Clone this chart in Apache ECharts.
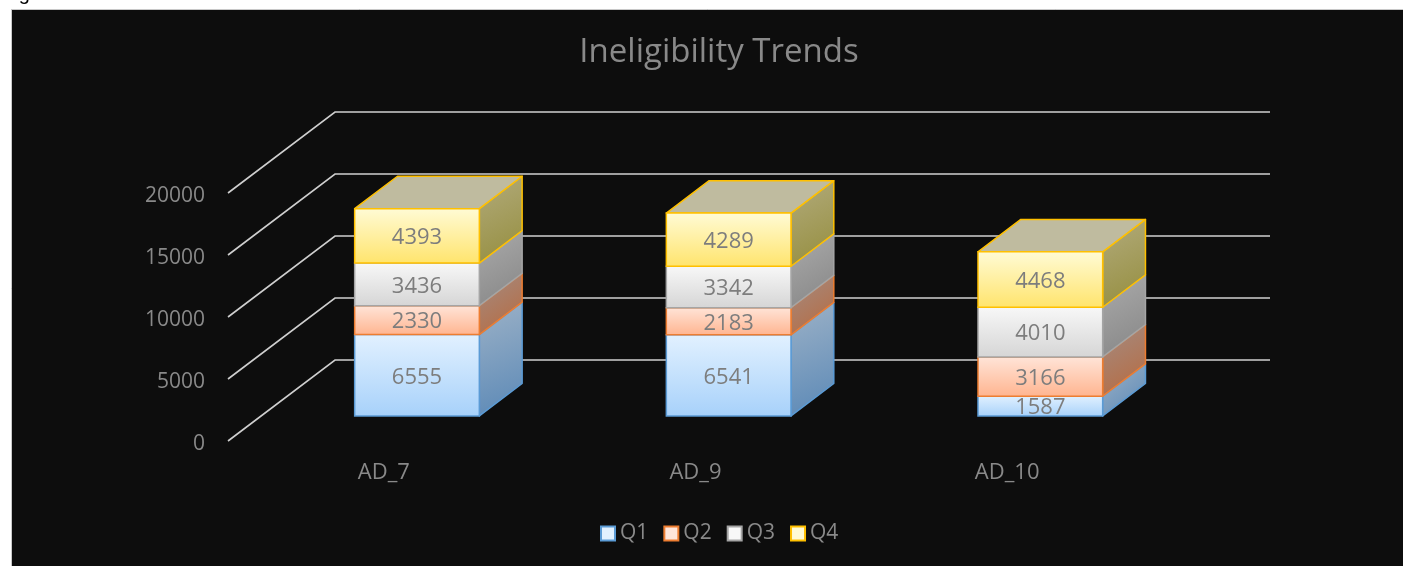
<!DOCTYPE html>
<html>
<head>
<meta charset="utf-8">
<title>Ineligibility Trends</title>
<script src="https://cdn.jsdelivr.net/npm/echarts@6/dist/echarts.min.js"></script>
<style>
  html, body { margin: 0; padding: 0; background: #ffffff; }
  #chart { width: 1403px; height: 566px; }
</style>
</head>
<body>
<div id="chart"></div>
<script>
// ---- data ----
const categories = ['AD_7', 'AD_9', 'AD_10'];
const seriesNames = ['Q1', 'Q2', 'Q3', 'Q4'];
const q1 = [6555, 6541, 1587];
const q2 = [2330, 2183, 3166];
const q3 = [3436, 3342, 4010];
const q4 = [4393, 4289, 4468];
const yTicks = [0, 5000, 10000, 15000, 20000];

// ---- 3D look: oblique depth vector of the floor/walls and bar placement in it ----
const DEPTH_X = 107;
const DEPTH_Y = -81;
const BAR_FRONT = 0.31;   // fraction of depth where the bar's front face sits
const BAR_BACK = 0.71;    // fraction of depth where the bar's back face sits
const BAR_WIDTH = 0.40;   // fraction of a category band
const FONT = '"Open Sans", "Noto Sans", sans-serif';
const TEXT = '#898989';

const palette = [
  { edge: '#5b9bd5', front: ['#e2f1ff', '#a7d1fa'], side: ['#9db2c7', '#5a88b6'], top: '#b9cde0' },
  { edge: '#ed7d31', front: ['#ffe5d9', '#ffb48f'], side: ['#a38c84', '#b8693c'], top: '#d9b7a6' },
  { edge: '#a5a5a5', front: ['#f8f8f8', '#d5d5d5'], side: ['#ababab', '#858585'], top: '#c8c8c8' },
  { edge: '#ffc000', front: ['#fffbd6', '#ffe46c'], side: ['#b2ab7d', '#948d3c'], top: '#bfbb9f' }
];

const values = [q1, q2, q3, q4];
// stacked [category, base, top, value] rows per series
const stacked = values.map(function (vals, si) {
  return vals.map(function (v, ci) {
    let base = 0;
    for (let k = 0; k < si; k++) base += values[k][ci];
    return [ci, base, base + v, v];
  });
});

function grad(c) {
  return new echarts.graphic.LinearGradient(0, 0, 0, 1, [
    { offset: 0, color: c[0] }, { offset: 1, color: c[1] }
  ]);
}
function diag(c) {
  return new echarts.graphic.LinearGradient(0, 0, 1, 1, [
    { offset: 0, color: c[0] }, { offset: 1, color: c[1] }
  ]);
}

function barRenderer(si) {
  const pal = palette[si];
  const isTop = si === values.length - 1;
  return function (params, api) {
    const ci = api.value(0);
    const base = api.value(1);
    const top = api.value(2);
    const val = api.value(3);
    const band = api.size([1, 0])[0];
    const w = band * BAR_WIDTH;
    const p0 = api.coord([ci, base]);
    const p1 = api.coord([ci, top]);
    const ox = DEPTH_X * BAR_FRONT, oy = DEPTH_Y * BAR_FRONT;
    const dx = DEPTH_X * (BAR_BACK - BAR_FRONT), dy = DEPTH_Y * (BAR_BACK - BAR_FRONT);
    const xl = p0[0] - w / 2 + ox, xr = p0[0] + w / 2 + ox;
    const yb = p0[1] + oy, yt = p1[1] + oy;
    const children = [];
    children.push({
      type: 'polygon',
      shape: { points: [[xr, yb], [xr + dx, yb + dy], [xr + dx, yt + dy], [xr, yt]] },
      style: { fill: diag(pal.side), stroke: pal.edge, lineWidth: 1.5, lineJoin: 'round' }
    });
    if (isTop) {
      children.push({
        type: 'polygon',
        shape: { points: [[xl, yt], [xr, yt], [xr + dx, yt + dy], [xl + dx, yt + dy]] },
        style: { fill: pal.top, stroke: pal.edge, lineWidth: 1.5, lineJoin: 'round' }
      });
    }
    children.push({
      type: 'rect',
      shape: { x: xl, y: yt, width: xr - xl, height: yb - yt },
      style: { fill: grad(pal.front), stroke: pal.edge, lineWidth: 1.5 }
    });
    children.push({
      type: 'text',
      x: (xl + xr) / 2,
      y: (yb + yt) / 2 + 2,
      style: {
        text: String(val), fill: '#7d7d7d', font: '22px ' + FONT,
        align: 'center', verticalAlign: 'middle'
      }
    });
    return { type: 'group', children: children };
  };
}

function gridRenderer(params, api) {
  const y = api.coord([0, api.value(1)])[1];
  const cs = params.coordSys;
  const left = cs.x, right = cs.x + cs.width;
  return {
    type: 'polyline',
    shape: { points: [[left, y], [left + DEPTH_X, y + DEPTH_Y], [right + DEPTH_X, y + DEPTH_Y]] },
    style: { stroke: '#cfcfcf', lineWidth: 1.6, fill: null }
  };
}

const series = [{
  type: 'custom',
  name: 'grid',
  z: 1,
  silent: true,
  renderItem: gridRenderer,
  encode: { x: 0, y: 1 },
  data: yTicks.map(function (v) { return [0, v]; })
}].concat(seriesNames.map(function (name, si) {
  return {
    type: 'custom',
    name: name,
    z: 2,
    renderItem: barRenderer(si),
    encode: { x: 0, y: 2 },
    itemStyle: { color: palette[si].front[0], borderColor: palette[si].edge, borderWidth: 2 },
    data: stacked[si]
  };
}));

const chart = echarts.init(document.getElementById('chart'), null, { renderer: 'canvas' });
chart.setOption({
  backgroundColor: '#ffffff',
  animation: false,
  graphic: [
    {
      type: 'rect', z: -10, silent: true,
      shape: { x: 11.5, y: 9.5, width: 1400, height: 560 },
      style: { fill: '#0d0d0d', stroke: '#c8c8c8', lineWidth: 1 }
    },
    {
      type: 'text', x: 2, y: -16, z: -5, silent: true,
      style: { text: 'Fig 4.', fill: '#000000', font: '20px "Liberation Sans", Arial, sans-serif' }
    }
  ],
  title: {
    text: 'Ineligibility Trends',
    left: 714,
    top: 31,
    textAlign: 'center',
    textStyle: { color: TEXT, fontFamily: FONT, fontSize: 33, fontWeight: 'normal' }
  },
  legend: {
    data: seriesNames.map(function (n, i) {
      return {
        name: n, icon: 'rect',
        itemStyle: { color: palette[i].front[0], borderColor: palette[i].edge, borderWidth: 2 }
      };
    }),
    left: 595,
    top: 518,
    itemWidth: 14,
    itemHeight: 14,
    itemGap: 15,
    textStyle: { color: TEXT, fontFamily: FONT, fontSize: 21 }
  },
  grid: { left: 228, right: 240, top: 193, bottom: 125, containLabel: false },
  xAxis: {
    type: 'category',
    data: categories,
    axisLine: { show: false },
    axisTick: { show: false },
    axisLabel: { color: TEXT, fontFamily: FONT, fontSize: 22, margin: 21 }
  },
  yAxis: {
    type: 'value',
    min: 0,
    max: 20000,
    interval: 5000,
    axisLine: { show: false },
    axisTick: { show: false },
    splitLine: { show: false },
    axisLabel: {
      color: TEXT, fontFamily: FONT, fontSize: 21, margin: 23,
      verticalAlign: 'top', lineHeight: 6,
      formatter: function (v) { return String(v); }
    }
  },
  series: series
});
</script>
</body>
</html>
